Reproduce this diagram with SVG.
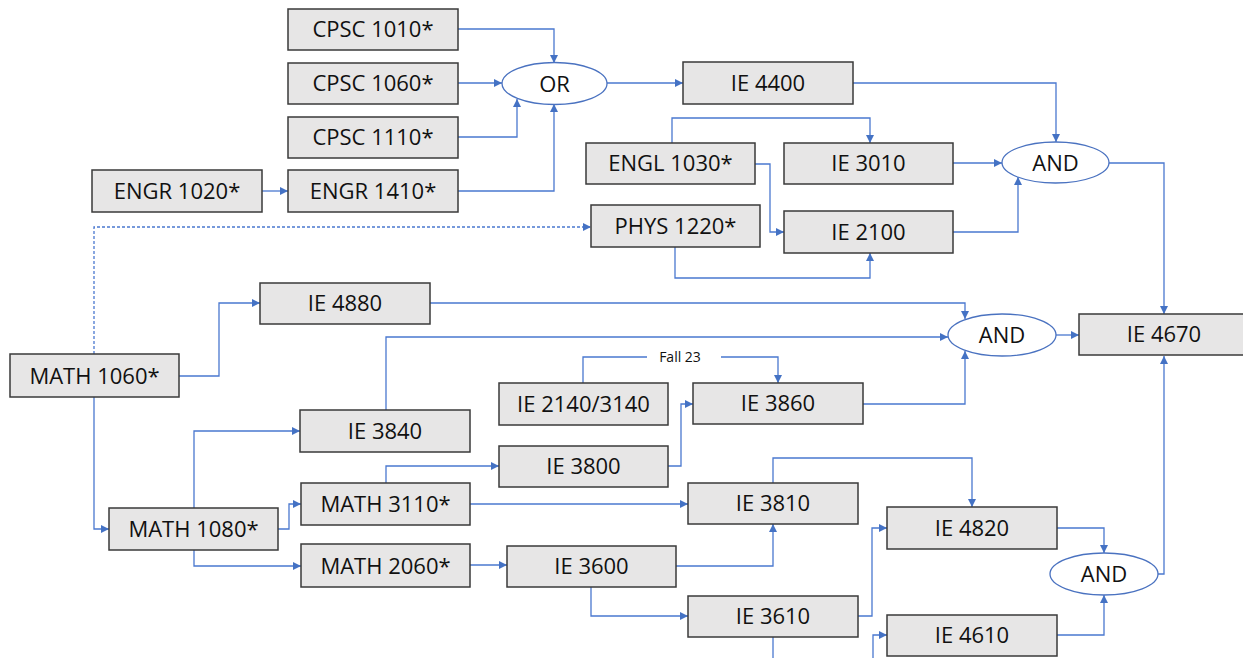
<svg xmlns="http://www.w3.org/2000/svg" width="1243" height="658" viewBox="0 0 1243 658">
<defs>
<marker id="ah" markerUnits="userSpaceOnUse" markerWidth="9" markerHeight="9" refX="8" refY="4" orient="auto"><path d="M0,0 L8,4 L0,8 z" fill="#4472c4"/></marker>
<style>
.b{fill:#e7e6e6;stroke:#3a3a3a;stroke-width:1.5}
.e{fill:#fff;stroke:#4a72c0;stroke-width:1.3}
.t{font-family:"Open Sans","Noto Sans",sans-serif;font-size:22px;fill:#111;text-anchor:middle}
.s{font-family:"Open Sans","Noto Sans",sans-serif;font-size:14px;fill:#111;text-anchor:middle}
.c path{fill:none;stroke:#4a78cf;stroke-width:1.3}
.c .a{marker-end:url(#ah)}
.c .d{stroke-dasharray:3,2}
</style>
</defs>
<rect width="1243" height="658" fill="#fff"/>
<g class="c" id="connectors">
<path class="a" d="M458,29 H554 V63"/>
<path class="a" d="M458,83 H502"/>
<path class="a" d="M458,137 H517 V99"/>
<path class="a" d="M458,191 H554 V104"/>
<path class="a" d="M262,191 H288"/>
<path class="a" d="M607,83 H683"/>
<path class="a" d="M853,83 H1056 V142"/>
<path class="a" d="M672,143 V118 H870 V143"/>
<path class="a" d="M755,164 H770 V232 H784"/>
<path class="a" d="M675,247 V278 H870 V253"/>
<path class="a" d="M953,163 H1002"/>
<path class="a" d="M953,232 H1018 V177"/>
<path class="a" d="M1109,163 H1164 V314"/>
<path class="a d" d="M94,354 V227 H591"/>
<path class="a" d="M179,376 H219 V303 H260"/>
<path class="a" d="M430,303 H965 V319"/>
<path class="a" d="M386,410 V337 H948"/>
<path class="a" d="M863,404 H965 V351"/>
<path class="a" d="M1056,335 H1079"/>
<path d="M583,383 V357 H647"/>
<path class="a" d="M721,357 H778 V383"/>
<path class="a" d="M668,466 H681 V404 H693"/>
<path class="a" d="M773,483 V458 H972 V507"/>
<path class="a" d="M470,504 H688"/>
<path class="a" d="M676,566 H773 V524"/>
<path class="a" d="M591,587 V616 H688"/>
<path class="a" d="M858,616 H872 V528 H887"/>
<path d="M773,637 V658"/>
<path class="a" d="M873,658 V635 H887"/>
<path class="a" d="M1057,528 H1104 V553"/>
<path class="a" d="M1057,635 H1104 V595"/>
<path class="a" d="M1158,574 H1164 V356"/>
<path class="a" d="M470,565 H507"/>
<path class="a" d="M386,483 V466 H499"/>
<path class="a" d="M94,397 V529 H109"/>
<path class="a" d="M194,508 V431 H300"/>
<path class="a" d="M278,529 H289 V504 H301"/>
<path class="a" d="M194,550 V566 H301"/>
<text class="s" x="680" y="362">Fall 23</text>
</g>
<g id="cpsc1010"><rect class="b" x="288" y="9" width="170" height="41"/><text class="t" x="373" y="37">CPSC 1010*</text></g>
<g id="cpsc1060"><rect class="b" x="288" y="63" width="170" height="41"/><text class="t" x="373" y="91">CPSC 1060*</text></g>
<g id="cpsc1110"><rect class="b" x="288" y="117" width="170" height="41"/><text class="t" x="373" y="145">CPSC 1110*</text></g>
<g id="engr1410"><rect class="b" x="288" y="170" width="170" height="42"/><text class="t" x="373" y="199">ENGR 1410*</text></g>
<g id="engr1020"><rect class="b" x="92" y="170" width="170" height="42"/><text class="t" x="177" y="199">ENGR 1020*</text></g>
<g id="or"><ellipse class="e" cx="554.5" cy="83.5" rx="52.5" ry="21"/><text class="t" x="554.5" y="91.5">OR</text></g>
<g id="ie4400"><rect class="b" x="683" y="62" width="170" height="42"/><text class="t" x="768" y="91">IE 4400</text></g>
<g id="engl1030"><rect class="b" x="586" y="143" width="169" height="41"/><text class="t" x="670.5" y="171">ENGL 1030*</text></g>
<g id="ie3010"><rect class="b" x="784" y="143" width="169" height="41"/><text class="t" x="868.5" y="171">IE 3010</text></g>
<g id="phys1220"><rect class="b" x="591" y="205" width="169" height="42"/><text class="t" x="675.5" y="234">PHYS 1220*</text></g>
<g id="ie2100"><rect class="b" x="784" y="211" width="169" height="42"/><text class="t" x="868.5" y="240">IE 2100</text></g>
<g id="and1"><ellipse class="e" cx="1055.5" cy="162.5" rx="53.5" ry="20.5"/><text class="t" x="1055.5" y="170.5">AND</text></g>
<g id="ie4880"><rect class="b" x="260" y="283" width="170" height="41"/><text class="t" x="345" y="311">IE 4880</text></g>
<g id="and2"><ellipse class="e" cx="1002" cy="335" rx="54" ry="21"/><text class="t" x="1002" y="343">AND</text></g>
<g id="ie4670"><rect class="b" x="1079" y="314" width="170" height="41"/><text class="t" x="1164" y="342">IE 4670</text></g>
<g id="math1060"><rect class="b" x="10" y="354" width="169" height="43"/><text class="t" x="94.5" y="383.5">MATH 1060*</text></g>
<g id="ie2140"><rect class="b" x="499" y="383" width="169" height="42"/><text class="t" x="583.5" y="412">IE 2140/3140</text></g>
<g id="ie3860"><rect class="b" x="693" y="383" width="170" height="41"/><text class="t" x="778" y="411">IE 3860</text></g>
<g id="ie3840"><rect class="b" x="300" y="410" width="170" height="42"/><text class="t" x="385" y="439">IE 3840</text></g>
<g id="ie3800"><rect class="b" x="499" y="446" width="169" height="41"/><text class="t" x="583.5" y="474">IE 3800</text></g>
<g id="math3110"><rect class="b" x="301" y="483" width="169" height="42"/><text class="t" x="385.5" y="512">MATH 3110*</text></g>
<g id="ie3810"><rect class="b" x="688" y="483" width="170" height="41"/><text class="t" x="773" y="511">IE 3810</text></g>
<g id="math1080"><rect class="b" x="109" y="508" width="169" height="42"/><text class="t" x="193.5" y="537">MATH 1080*</text></g>
<g id="ie4820"><rect class="b" x="887" y="507" width="170" height="42"/><text class="t" x="972" y="536">IE 4820</text></g>
<g id="math2060"><rect class="b" x="301" y="544" width="169" height="43"/><text class="t" x="385.5" y="573.5">MATH 2060*</text></g>
<g id="ie3600"><rect class="b" x="507" y="546" width="169" height="41"/><text class="t" x="591.5" y="574">IE 3600</text></g>
<g id="and3"><ellipse class="e" cx="1104" cy="574" rx="54" ry="21"/><text class="t" x="1104" y="582">AND</text></g>
<g id="ie3610"><rect class="b" x="688" y="596" width="170" height="41"/><text class="t" x="773" y="624">IE 3610</text></g>
<g id="ie4610"><rect class="b" x="887" y="615" width="170" height="41"/><text class="t" x="972" y="643">IE 4610</text></g>
</svg>
